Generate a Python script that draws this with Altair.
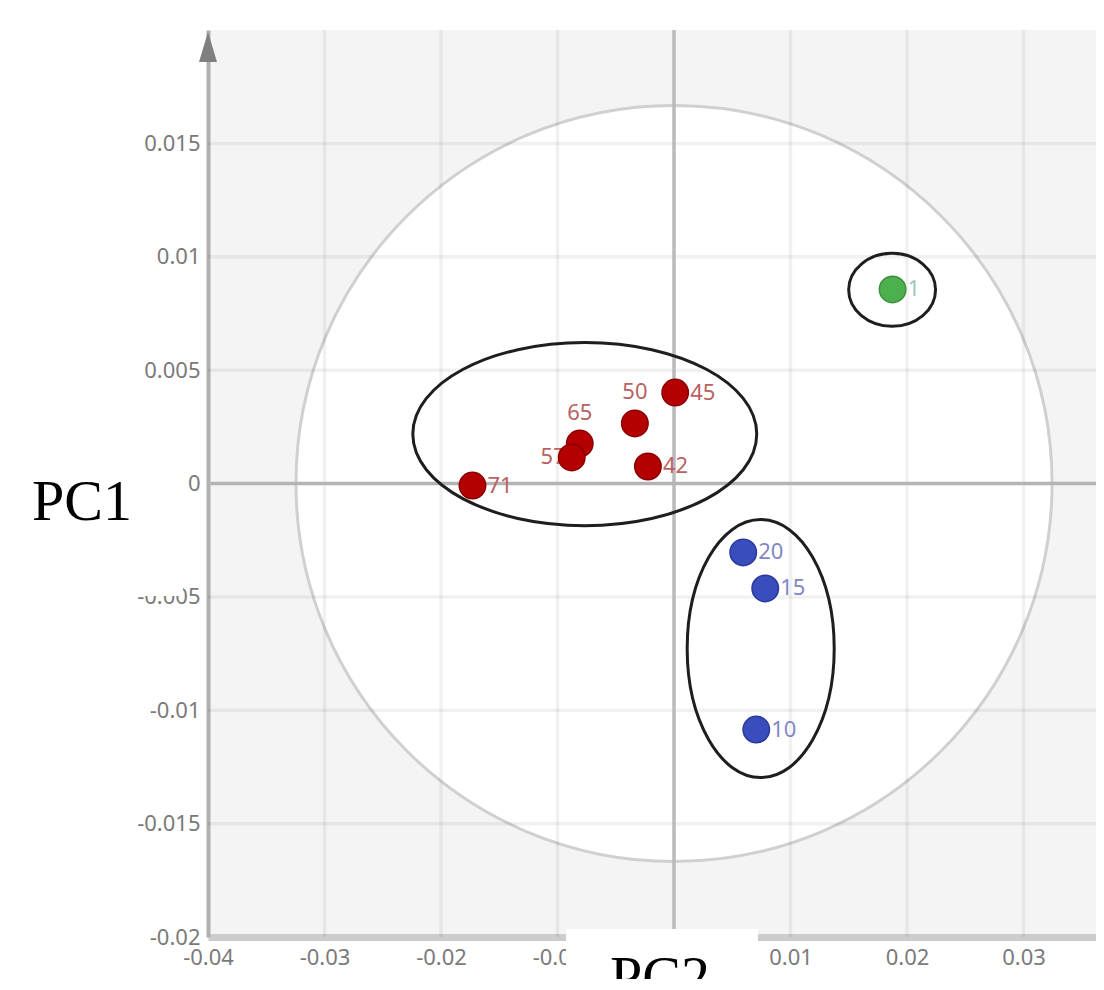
import altair as alt
import pandas as pd

# ---------------- data ----------------
sample_names = ["1", "45", "50", "65", "57", "42", "71", "20", "15", "10"]
pc2_scores = [0.01876, 0.0001, -0.00336, -0.00809, -0.00878, -0.00224, -0.0173, 0.00594, 0.00783, 0.00706]
pc1_scores = [0.00856, 0.00401, 0.00265, 0.00176, 0.00115, 0.00075, -0.00009, -0.00304, -0.00463, -0.01085]
sample_groups = ["G", "R", "R", "R", "R", "R", "R", "B", "B", "B"]

# group ellipses (centre and half-axes in data units)
ellipse_groups = ["R", "B", "G"]
ellipse_cx = [-0.00766, 0.00744, 0.01872]
ellipse_cy = [0.00218, -0.00728, 0.00854]
ellipse_rx = [0.01476, 0.00631, 0.00373]
ellipse_ry = [0.00404, 0.00569, 0.00161]

# Hotelling T2 ellipse
t2_cx, t2_cy = 0.0, 0.0
t2_rx, t2_ry = 0.03245, 0.01667

x_ticks = [-0.04, -0.03, -0.02, -0.01, 0, 0.01, 0.02, 0.03]
y_ticks = [-0.02, -0.015, -0.01, -0.005, 0, 0.005, 0.01, 0.015]

group_domain = ["R", "B", "G"]
fill_range = ["#b40000", "#3a4dbd", "#4cb04c"]
stroke_range = ["#8a0000", "#2a399c", "#3b8f3b"]
text_range = ["#b86262", "#7f87c4", "#9cc6bf"]

# ---------------- layout ----------------
W, H = 888, 907
XDOM = [-0.04, 0.03622]
YDOM = [-0.02, 0.02]
kx = W / (XDOM[1] - XDOM[0])
ky = H / (YDOM[1] - YDOM[0])


def ellipse_symbol(rx, ry):
    a = rx * kx
    b = ry * ky
    m = max(a, b)
    ha, hb = a / m, b / m
    path = (f"M {-ha:.4f} 0 A {ha:.4f} {hb:.4f} 0 1 1 {ha:.4f} 0 "
            f"A {ha:.4f} {hb:.4f} 0 1 1 {-ha:.4f} 0 Z")
    return path, (2 * m) ** 2


pts = pd.DataFrame({"name": sample_names, "pc2": pc2_scores, "pc1": pc1_scores, "grp": sample_groups})

ell_rows = []
for g, cx, cy, rx, ry in zip(ellipse_groups, ellipse_cx, ellipse_cy, ellipse_rx, ellipse_ry):
    p, s = ellipse_symbol(rx, ry)
    ell_rows.append({"grp": g, "cx": cx, "cy": cy, "shape": p, "size": s})
ell = pd.DataFrame(ell_rows)

p, s = ellipse_symbol(t2_rx, t2_ry)
t2 = pd.DataFrame([{"cx": t2_cx, "cy": t2_cy, "shape": p, "size": s}])

label_expr = "replace(format(datum.value, '~g'), '\u2212', '-')"
xscale = alt.Scale(domain=XDOM, nice=False, zero=False)
yscale = alt.Scale(domain=YDOM, nice=False, zero=False)
xaxis = alt.Axis(values=x_ticks, grid=False, ticks=False, domainColor="#cccccc", domainWidth=7,
                 labelColor="#7a7a7a", labelFont="Noto Sans", labelFontSize=22, labelPadding=10,
                 labelFlush=False, labelOverlap=False, labelExpr=label_expr, title=None, zindex=0)
yaxis = alt.Axis(values=y_ticks, grid=False, ticks=False, domainColor="#b0b0b0", domainWidth=4,
                 labelColor="#7a7a7a", labelFont="Noto Sans", labelFontSize=22, labelPadding=8,
                 labelFlush=False, labelOverlap=False, labelExpr=label_expr, title=None, zindex=0)


def X(f):
    return alt.X(f, type="quantitative", scale=xscale, axis=xaxis)


def Y(f):
    return alt.Y(f, type="quantitative", scale=yscale, axis=yaxis)


# T2 ellipse (white fill)
t2_layer = alt.Chart(t2).mark_point(opacity=1, strokeWidth=3).encode(
    x=X("cx"), y=Y("cy"),
    shape=alt.Shape("shape:N", scale=None),
    size=alt.Size("size:Q", scale=None),
    fill=alt.value("white"), stroke=alt.value("#d0d0d0"),
)

# grid lines
xg = pd.DataFrame({"v": [v for v in x_ticks if v not in (-0.04, 0)]})
yg = pd.DataFrame({"v": [v for v in y_ticks if v not in (-0.02, 0)]})
grid_x = alt.Chart(xg).mark_rule(color="black", opacity=0.055, strokeWidth=3.5).encode(x=X("v"))
grid_y = alt.Chart(yg).mark_rule(color="black", opacity=0.055, strokeWidth=3.5).encode(y=Y("v"))

zero = pd.DataFrame({"v": [0]})
zero_x = alt.Chart(zero).mark_rule(color="#bababa", strokeWidth=3.5).encode(x=X("v"))
zero_y = alt.Chart(zero).mark_rule(color="#b4b4b4", strokeWidth=3.5).encode(y=Y("v"))

# group ellipses
ell_layer = alt.Chart(ell).mark_point(opacity=1, strokeWidth=3, filled=False).encode(
    x=X("cx"), y=Y("cy"),
    shape=alt.Shape("shape:N", scale=None),
    size=alt.Size("size:Q", scale=None),
    stroke=alt.value("#1e1e1e"), fill=alt.value("transparent"),
)

tcolor = alt.Color("grp:N", scale=alt.Scale(domain=group_domain, range=text_range), legend=None)
above = ["50", "65"]
left = ["57"]
txt_right = alt.Chart(pts).transform_filter(
    ~alt.FieldOneOfPredicate(field="name", oneOf=above + left)
).mark_text(font="Noto Sans", fontSize=22, align="left", baseline="middle", dx=15).encode(
    x=X("pc2"), y=Y("pc1"), text="name:N", color=tcolor)
txt_above = alt.Chart(pts).transform_filter(
    alt.FieldOneOfPredicate(field="name", oneOf=above)
).mark_text(font="Noto Sans", fontSize=22, align="center", baseline="middle", dy=-31).encode(
    x=X("pc2"), y=Y("pc1"), text="name:N", color=tcolor)
txt_left = alt.Chart(pts).transform_filter(
    alt.FieldOneOfPredicate(field="name", oneOf=left)
).mark_text(font="Noto Sans", fontSize=22, align="right", baseline="middle", dx=-6).encode(
    x=X("pc2"), y=Y("pc1"), text="name:N", color=tcolor)

points = alt.Chart(pts).mark_circle(size=700, opacity=1, strokeWidth=1.5).encode(
    x=X("pc2"), y=Y("pc1"),
    fill=alt.Fill("grp:N", scale=alt.Scale(domain=group_domain, range=fill_range), legend=None),
    stroke=alt.Stroke("grp:N", scale=alt.Scale(domain=group_domain, range=stroke_range), legend=None),
)

arrow = alt.Chart(pd.DataFrame({"x": [-0.04], "y": [0.01925]})).mark_point(
    shape="M 0 -1 L 0.6 1 L -0.6 1 Z", size=900, filled=True, opacity=1, color="#808080"
).encode(x=X("x"), y=Y("y"))

one = pd.DataFrame({"a": [0]})
box_pc2 = alt.Chart(one).mark_rect(color="white").encode(
    x=alt.value(358), x2=alt.value(550), y=alt.value(899), y2=alt.value(975))
box_pc1 = alt.Chart(one).mark_rect(color="white").encode(
    x=alt.value(-208), x2=alt.value(-25), y=alt.value(370), y2=alt.value(566))

title_pc1 = alt.Chart(one).mark_text(font="Liberation Serif", fontSize=58, align="center",
                                      baseline="alphabetic", color="black").encode(
    x=alt.value(-126), y=alt.value(490), text=alt.value("PC1"))
title_pc2 = alt.Chart(one).mark_text(font="Liberation Serif", fontSize=58, align="center",
                                      baseline="alphabetic", color="black").encode(
    x=alt.value(452), y=alt.value(966), text=alt.value("PC2"))

chart = alt.layer(
    t2_layer, grid_x, grid_y, zero_x, zero_y, ell_layer,
    txt_right, txt_above, txt_left, points, arrow,
    box_pc2, box_pc1, title_pc1, title_pc2,
).properties(
    width=W, height=H,
    autosize=alt.AutoSizeParams(type="none"),
    padding={"left": 200, "top": 22, "right": 0, "bottom": 42},
).configure_view(fill="#f4f4f4", strokeWidth=0)

chart.save("out.html", embed_options={"renderer": "svg", "actions": False})
